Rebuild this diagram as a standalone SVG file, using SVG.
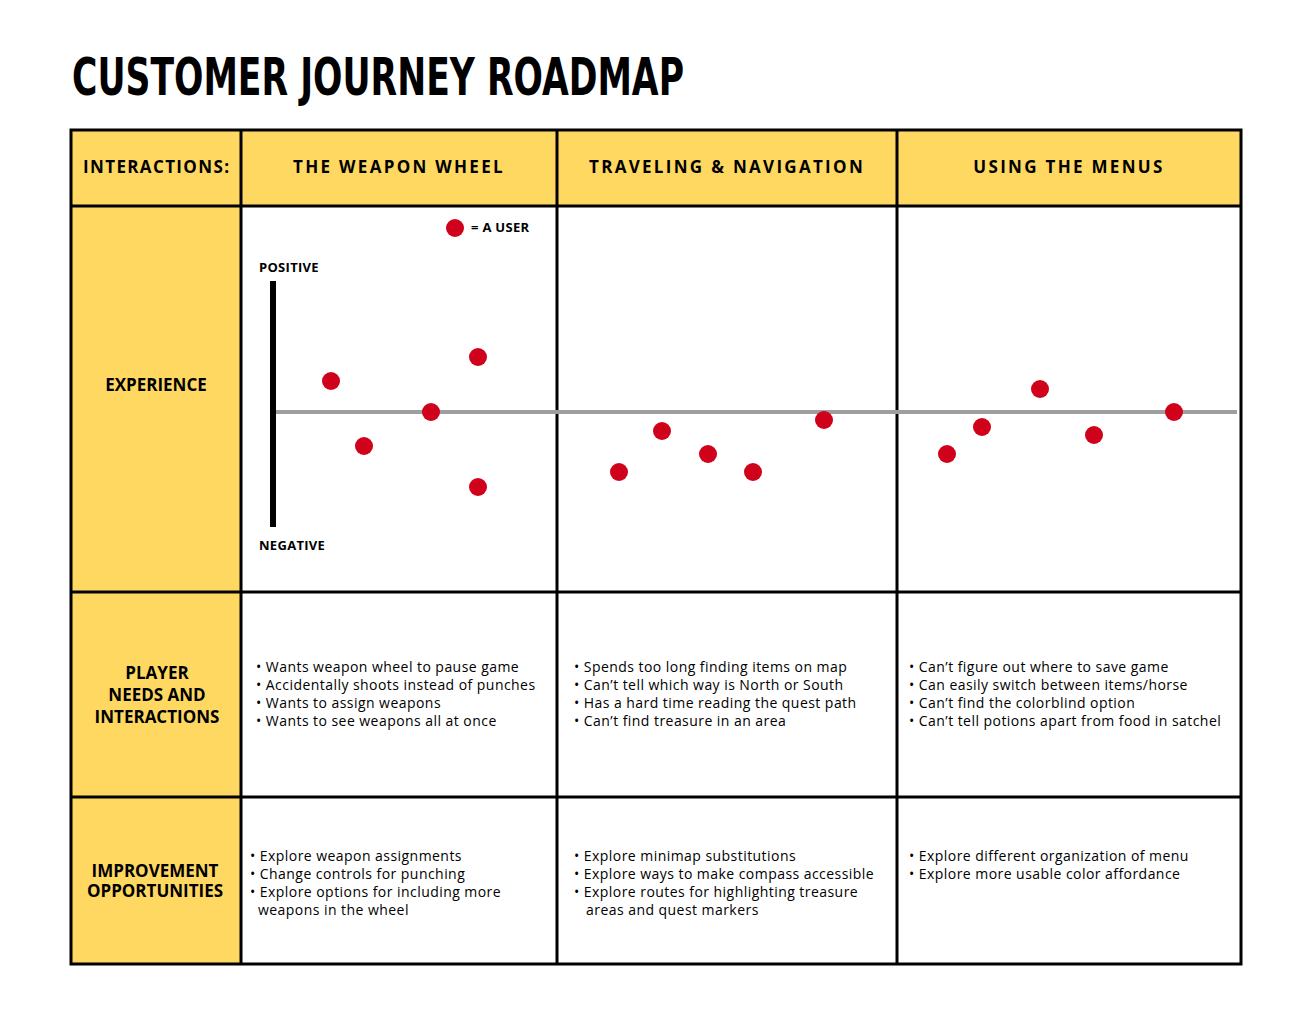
<svg xmlns="http://www.w3.org/2000/svg" width="1307" height="1030" viewBox="0 0 1307 1030">
<style>
.y{fill:#FFD862}
.g{stroke:#000;stroke-width:3;fill:none}
.h{font-family:"Open Sans",sans-serif;font-weight:bold;font-size:17px;letter-spacing:2.3px;text-anchor:middle}
.l{font-family:"Open Sans",sans-serif;font-weight:bold;font-size:17px;text-anchor:middle}
.t{font-family:"Open Sans",sans-serif;font-size:14px;letter-spacing:0.45px}
.s{font-family:"Open Sans",sans-serif;font-weight:bold;font-size:13px;letter-spacing:0.3px}
.d{fill:#D0021B}
</style>
<rect width="1307" height="1030" fill="#fff"/>
<text x="72" y="95" font-family="DejaVu Sans Condensed,sans-serif" font-weight="bold" font-size="52" textLength="612" lengthAdjust="spacingAndGlyphs">CUSTOMER JOURNEY ROADMAP</text>
<g id="grid">
<rect class="y" x="71" y="130" width="1170" height="76"/>
<rect class="y" x="71" y="206" width="170" height="758"/>
<rect class="g" x="71" y="130" width="1170" height="834"/>
<path class="g" d="M241 130V964M557 130V964M897 130V964M71 206H1241M71 592H1241M71 797H1241"/>
</g>
<g id="headers">
<text class="l" x="156" y="173" textLength="146">INTERACTIONS:</text>
<text class="h" x="399" y="173">THE WEAPON WHEEL</text>
<text class="h" x="727" y="173">TRAVELING &amp; NAVIGATION</text>
<text class="h" x="1069" y="173">USING THE MENUS</text>
<text class="l" x="156" y="391">EXPERIENCE</text>
<text class="l" x="157" y="679">PLAYER</text>
<text class="l" x="157" y="701">NEEDS AND</text>
<text class="l" x="157" y="723">INTERACTIONS</text>
<text class="l" x="155" y="877" font-size="15">IMPROVEMENT</text>
<text class="l" x="155" y="897" font-size="15">OPPORTUNITIES</text>
</g>
<g id="connectors">
<line x1="275" y1="412" x2="1237" y2="412" stroke="#9E9E9E" stroke-width="4"/>
<line x1="273" y1="281" x2="273" y2="527" stroke="#000" stroke-width="6"/>
</g>
<g id="chart">
<text class="s" x="259" y="272">POSITIVE</text>
<text class="s" x="259" y="550">NEGATIVE</text>
<circle class="d" cx="455" cy="228" r="9"/>
<text class="s" x="471" y="232">= A USER</text>
<circle class="d" cx="331" cy="381" r="9"/><circle class="d" cx="364" cy="446" r="9"/><circle class="d" cx="431" cy="412" r="9"/><circle class="d" cx="478" cy="357" r="9"/><circle class="d" cx="478" cy="487" r="9"/>
<circle class="d" cx="619" cy="472" r="9"/><circle class="d" cx="662" cy="431" r="9"/><circle class="d" cx="708" cy="454" r="9"/><circle class="d" cx="753" cy="472" r="9"/><circle class="d" cx="824" cy="420" r="9"/>
<circle class="d" cx="947" cy="454" r="9"/><circle class="d" cx="982" cy="427" r="9"/><circle class="d" cx="1040" cy="389" r="9"/><circle class="d" cx="1094" cy="435" r="9"/><circle class="d" cx="1174" cy="412" r="9"/>
</g>
<g id="needs" class="t">
<text x="256" y="672">• Wants weapon wheel to pause game</text>
<text x="256" y="690">• Accidentally shoots instead of punches</text>
<text x="256" y="708">• Wants to assign weapons</text>
<text x="256" y="726">• Wants to see weapons all at once</text>
<text x="574" y="672">• Spends too long finding items on map</text>
<text x="574" y="690">• Can’t tell which way is North or South</text>
<text x="574" y="708">• Has a hard time reading the quest path</text>
<text x="574" y="726">• Can’t find treasure in an area</text>
<text x="909" y="672">• Can’t figure out where to save game</text>
<text x="909" y="690">• Can easily switch between items/horse</text>
<text x="909" y="708">• Can’t find the colorblind option</text>
<text x="909" y="726">• Can’t tell potions apart from food in satchel</text>
</g>
<g id="opps" class="t">
<text x="250" y="861">• Explore weapon assignments</text>
<text x="250" y="879">• Change controls for punching</text>
<text x="250" y="897">• Explore options for including more</text>
<text x="258" y="915">weapons in the wheel</text>
<text x="574" y="861">• Explore minimap substitutions</text>
<text x="574" y="879">• Explore ways to make compass accessible</text>
<text x="574" y="897">• Explore routes for highlighting treasure</text>
<text x="586" y="915">areas and quest markers</text>
<text x="909" y="861">• Explore different organization of menu</text>
<text x="909" y="879">• Explore more usable color affordance</text>
</g>
</svg>
